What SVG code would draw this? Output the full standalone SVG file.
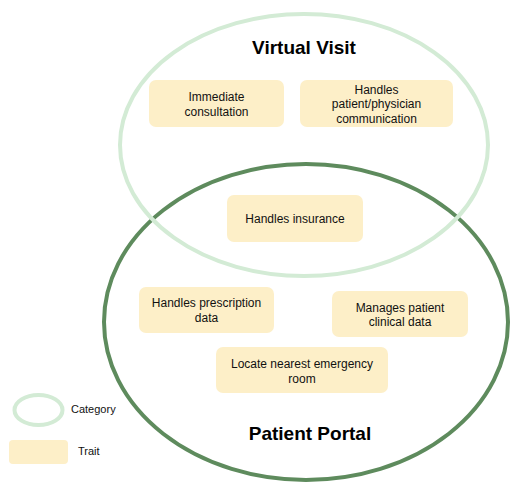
<svg xmlns="http://www.w3.org/2000/svg" width="510" height="483" viewBox="0 0 510 483">
<style>
.cat{fill:none;stroke-width:4}
.vv{stroke:#d3ebd5}
.pp{stroke:#5e8b5d}
.box{fill:#fdefc8}
.t{font-family:"Liberation Sans",Arial,sans-serif;font-size:12px;fill:#111;text-anchor:middle}
.h{font-family:"Liberation Sans",Arial,sans-serif;font-size:19px;font-weight:bold;fill:#000;text-anchor:middle}
.lg{font-family:"Liberation Sans",Arial,sans-serif;font-size:11px;fill:#111}
</style>
<rect width="510" height="483" fill="#fff"/>
<g id="patient-portal">
<ellipse class="cat pp" cx="306" cy="322" rx="202" ry="158"/>
<text class="h" x="310" y="440">Patient Portal</text>
</g>
<g id="virtual-visit">
<ellipse class="cat vv" cx="304" cy="145" rx="184" ry="131"/>
<text class="h" x="304" y="54">Virtual Visit</text>
</g>
<g id="immediate-consultation">
<rect class="box" x="149" y="80" width="135" height="47" rx="7"/>
<text class="t" x="216.5" y="101">Immediate</text>
<text class="t" x="216.5" y="115.5">consultation</text>
</g>
<g id="handles-communication">
<rect class="box" x="300" y="80" width="153" height="47" rx="7"/>
<text class="t" x="376.5" y="93.5">Handles</text>
<text class="t" x="376.5" y="108">patient/physician</text>
<text class="t" x="376.5" y="122.5">communication</text>
</g>
<g id="handles-insurance">
<rect class="box" x="227" y="195" width="136" height="47" rx="7"/>
<text class="t" x="295" y="223">Handles insurance</text>
</g>
<g id="handles-prescription">
<rect class="box" x="139" y="287" width="135" height="46" rx="7"/>
<text class="t" x="206.5" y="307">Handles prescription</text>
<text class="t" x="206.5" y="322">data</text>
</g>
<g id="manages-clinical">
<rect class="box" x="332" y="291" width="136" height="46" rx="7"/>
<text class="t" x="400" y="311.5">Manages patient</text>
<text class="t" x="400" y="326">clinical data</text>
</g>
<g id="locate-er">
<rect class="box" x="216" y="347" width="172" height="46" rx="7"/>
<text class="t" x="302" y="368">Locate nearest emergency</text>
<text class="t" x="302" y="382.5">room</text>
</g>
<g id="legend-category">
<ellipse class="cat vv" cx="38.5" cy="410" rx="24" ry="15"/>
<text class="lg" x="71" y="413">Category</text>
</g>
<g id="legend-trait">
<rect class="box" x="9" y="440" width="59" height="24" rx="4"/>
<text class="lg" x="78" y="455">Trait</text>
</g>
<g id="connectors"></g>
</svg>
